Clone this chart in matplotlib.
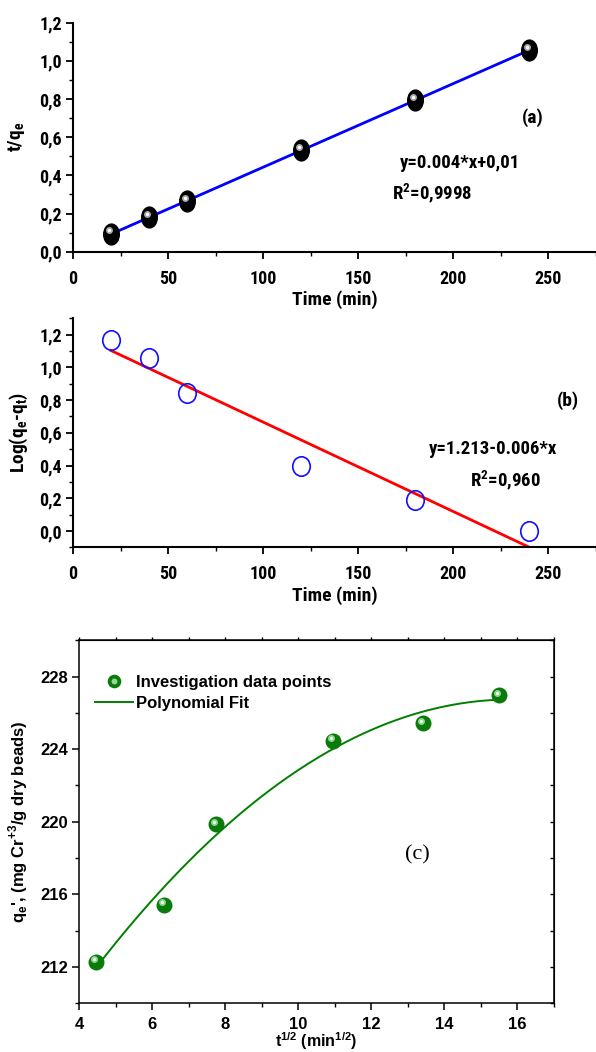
import numpy as np
import matplotlib
matplotlib.use("Agg")
import matplotlib.pyplot as plt
from matplotlib.path import Path
from matplotlib.markers import MarkerStyle
from matplotlib.transforms import Affine2D, offset_copy
from matplotlib.ticker import MultipleLocator, FuncFormatter
from matplotlib.legend_handler import HandlerTuple

# data
time_min = [20, 40, 60, 120, 180, 240]
t_over_qe = [0.094, 0.18, 0.265, 0.532, 0.794, 1.056]
log_qe_qt = [1.17, 1.06, 0.846, 0.40, 0.19, 0.0]
sqrt_t = [4.47, 6.32, 7.75, 10.95, 13.42, 15.49]
qe_values = [212.28, 215.44, 219.86, 224.45, 225.43, 226.97]

NARROW = ['Roboto Condensed', 'Liberation Sans', 'DejaVu Sans']
ARIAL = ['Liberation Sans', 'DejaVu Sans']

# tall ellipse markers (origin-like spheres)
ell = Path.unit_circle().transformed(Affine2D().scale(0.75, 1.0))
ELL = MarkerStyle(ell)
ell2 = Path.unit_circle().transformed(Affine2D().scale(0.9, 1.0))
ELL2 = MarkerStyle(ell2)

comma = FuncFormatter(lambda v, p: "{:.1f}".format(v).replace('.', ','))

fig = plt.figure(figsize=(5.96, 10.52), dpi=100)


def style_top(ax):
    for s in ['top', 'right']:
        ax.spines[s].set_visible(False)
    for s in ['left', 'bottom']:
        ax.spines[s].set_linewidth(1.5)
    ax.xaxis.set_major_locator(MultipleLocator(50))
    ax.xaxis.set_minor_locator(MultipleLocator(25))
    ax.yaxis.set_major_locator(MultipleLocator(0.2))
    ax.yaxis.set_minor_locator(MultipleLocator(0.1))
    ax.yaxis.set_major_formatter(comma)
    ax.tick_params(axis='both', which='major', direction='out', length=5, width=1.3)
    ax.tick_params(axis='both', which='minor', direction='out', length=3, width=1.0)
    ax.tick_params(axis='x', which='major', pad=8)
    ax.tick_params(axis='y', which='major', pad=3)
    for lab in ax.get_xticklabels() + ax.get_yticklabels():
        lab.set_family(NARROW)
        lab.set_fontweight('bold')
        lab.set_fontsize(13)
    ax.set_xlim(0, 275)


# ---- (a)
ax1 = fig.add_axes([73 / 596, 0.7607, 523 / 596, 0.2177])
coef_a = np.polyfit(time_min, t_over_qe, 1)
xs = np.array([time_min[0], time_min[-1]])
ax1.plot(xs, np.polyval(coef_a, xs), color='#0000ff', lw=2, zorder=2)
ax1.plot(time_min, t_over_qe, ls='none', marker=ELL, ms=15, color='black', zorder=3)
hl = offset_copy(ax1.transData, fig=fig, x=-2.5, y=3.5, units='dots')
ax1.plot(time_min, t_over_qe, ls='none', marker='o', ms=5, color='#a8a8a8', mew=0,
         transform=hl, zorder=4)
ax1.plot(time_min, t_over_qe, ls='none', marker='o', ms=2.5, color='white', mew=0,
         transform=hl, zorder=5)
ax1.set_ylim(0, 1.2)
style_top(ax1)
ax1.set_xlabel('Time (min)', family=NARROW, fontweight='bold', fontsize=14, labelpad=2)
ax1.set_ylabel('t/q$_\\mathregular{e}$', family=NARROW, fontweight='bold', fontsize=14, labelpad=9)
ax1.text(242, 0.705, '(a)', family=NARROW, fontweight='bold', fontsize=14, ha='center', va='center')
ax1.text(172, 0.464, 'y=0.004*x+0,01', family=NARROW, fontweight='bold', fontsize=13.5, va='center')
ax1.text(167.5, 0.307, 'R$^\\mathregular{2}$=0,9998', family=NARROW, fontweight='bold', fontsize=13.5, va='center')

# ---- (b)
ax2 = fig.add_axes([73 / 596, 0.4797, 523 / 596, 0.2177])
coef_b = np.polyfit(time_min, log_qe_qt, 1)
ax2.plot(xs, np.polyval(coef_b, xs), color='#ff0000', lw=2, zorder=2)
ax2.plot(time_min, log_qe_qt, ls='none', marker=ELL2, ms=14, mfc='none', mec='#1010ff',
         mew=1.2, zorder=3)
ax2.set_ylim(-0.1, 1.3)
style_top(ax2)
ax2.set_yticks(np.arange(0, 1.21, 0.2))
ax2.set_xlabel('Time (min)', family=NARROW, fontweight='bold', fontsize=14, labelpad=2)
ax2.set_ylabel('Log(q$_\\mathregular{e}$-q$_\\mathregular{t}$)', family=NARROW, fontweight='bold',
               fontsize=14, labelpad=7)
ax2.text(260, 0.80, '(b)', family=NARROW, fontweight='bold', fontsize=14, ha='center', va='center')
ax2.text(187, 0.504, 'y=1.213-0.006*x', family=NARROW, fontweight='bold', fontsize=13.5, va='center')
ax2.text(209, 0.31, 'R$^\\mathregular{2}$=0,960', family=NARROW, fontweight='bold', fontsize=13.5, va='center')

# ---- (c)
ax3 = fig.add_axes([79 / 596, 0.0463, 475 / 596, 0.3451])
coef_c = np.polyfit(sqrt_t, qe_values, 2)
xc = np.linspace(sqrt_t[0], sqrt_t[-1], 200)
fit_line, = ax3.plot(xc, np.polyval(coef_c, xc), color='#008000', lw=1.4, zorder=2,
                     label='Polynomial Fit')
pts, = ax3.plot(sqrt_t, qe_values, ls='none', marker='o', ms=11.5, color='#0a7a0a', mew=0, zorder=3)
hl3 = offset_copy(ax3.transData, fig=fig, x=-2, y=2.5, units='dots')
pts_hl, = ax3.plot(sqrt_t, qe_values, ls='none', marker='o', ms=5, color='#8fd88f', mew=0,
                   transform=hl3, zorder=4)
ax3.plot(sqrt_t, qe_values, ls='none', marker='o', ms=2.2, color='white', mew=0,
         transform=hl3, zorder=5)
ax3.set_xlim(4, 17)
ax3.set_ylim(210, 230)
ax3.xaxis.set_major_locator(MultipleLocator(2))
ax3.xaxis.set_minor_locator(MultipleLocator(1))
ax3.set_yticks([212, 216, 220, 224, 228])
ax3.yaxis.set_minor_locator(MultipleLocator(2))
for s in ax3.spines.values():
    s.set_linewidth(1.1)
ax3.tick_params(axis='both', which='major', direction='out', length=5, width=1.1)
ax3.tick_params(axis='both', which='minor', direction='out', length=3, width=1.0)
ax3.tick_params(axis='x', which='major', pad=5)
ax3.tick_params(axis='y', which='major', pad=3)
for lab in ax3.get_xticklabels() + ax3.get_yticklabels():
    lab.set_family(ARIAL)
    lab.set_fontweight('bold')
    lab.set_fontsize(12)
top = ax3.secondary_xaxis('top')
top.xaxis.set_major_locator(MultipleLocator(1))
top.tick_params(direction='out', length=2.5, width=1.0, labeltop=False)
right = ax3.secondary_yaxis('right')
right.yaxis.set_major_locator(MultipleLocator(2))
right.tick_params(direction='in', length=3, width=1.0, labelright=False)
ax3.set_xlabel('t$^\\mathregular{1/2}$ (min$^\\mathregular{1/2}$)', family=ARIAL, fontweight='bold',
               fontsize=11.5, labelpad=-1)
ax3.set_ylabel("q$_\\mathregular{e}$', (mg Cr$^\\mathregular{+3}$/g dry beads)", family=ARIAL,
               fontweight='bold', fontsize=12, labelpad=7)
ax3.text(13.27, 218.16, '(c)', family=['Liberation Serif', 'DejaVu Serif'], fontsize=16,
         ha='center', va='center')
leg = ax3.legend([(pts, pts_hl), fit_line], ['Investigation data points', 'Polynomial Fit'],
                 handler_map={tuple: HandlerTuple(ndivide=1)}, loc='upper left',
                 bbox_to_anchor=(0.033, 0.905), frameon=False, handlelength=2.3,
                 handletextpad=0.15, labelspacing=0.35, borderpad=0, borderaxespad=0,
                 markerscale=0.85, prop={'family': ARIAL, 'weight': 'bold', 'size': 12})

fig.savefig('out.png', dpi=100)
